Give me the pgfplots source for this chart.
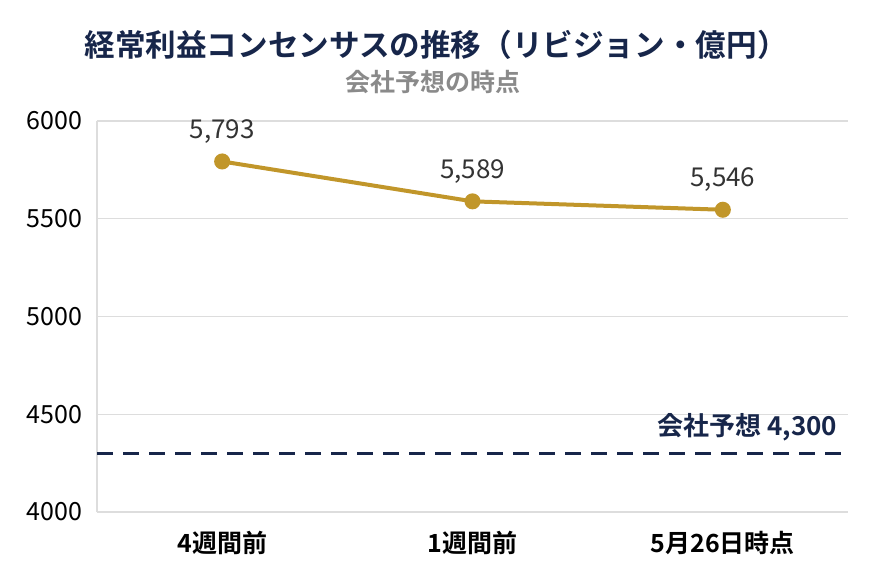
\documentclass[border=0pt]{standalone}
\usepackage{pgfplots}
\pgfplotsset{compat=1.18}
\usepackage{fontspec}
\setmainfont{Noto Sans CJK JP}
\newfontfamily\jpbold{Noto Sans CJK JP Bold}
\definecolor{navy}{HTML}{17264A}
\definecolor{gold}{HTML}{C1962A}
\definecolor{subgray}{HTML}{8A8A8A}
\definecolor{lbl}{HTML}{333333}
\definecolor{gridc}{HTML}{DDDDDD}
\begin{document}
\begin{tikzpicture}
\useasboundingbox (-48.5pt,-35.5pt) rectangle (386.5pt,256pt);
\begin{axis}[
  at={(0pt,0pt)}, anchor=south west,
  scale only axis,
  width=375.5pt, height=195.5pt,
  xmin=-0.5, xmax=2.5,
  ymin=4000, ymax=6000,
  ytick={4000,4500,5000,5500,6000},
  xtick={0,1,2},
  xticklabels={4週間前,1週間前,5月26日時点},
  xticklabel style={font=\jpbold\fontsize{12.5}{15}\selectfont, text=black, yshift=-6pt},
  yticklabel style={font=\fontsize{12.5}{15}\selectfont, text=black, xshift=-4pt},
  /pgf/number format/assume math mode=true,
  /pgf/number format/1000 sep={},
  major tick length=0pt,
  ymajorgrids, grid style={gridc, line width=0.6pt},
  axis x line*=bottom,
  axis y line*=left,
  x axis line style={draw=none},
  y axis line style={gridc, line width=0.6pt},
  clip=false,
]
\addplot[navy, line width=1.5pt, dash pattern=on 8pt off 5pt, forget plot] coordinates {(-0.5,4300) (2.5,4300)};
\addplot[gold, line width=2pt, mark=*, mark size=3pt, mark options={fill=gold, draw=gold},
  point meta=y,
  nodes near coords={\pgfmathprintnumber[fixed, precision=0, 1000 sep={,}, assume math mode=true]{\pgfplotspointmeta}},
  every node near coord/.append style={font=\fontsize{13}{15}\selectfont, text=lbl, anchor=center, yshift=15pt}] coordinates {
  (0,5793)
  (1,5589)
  (2,5546)
};
\node[anchor=east, text=navy, font=\jpbold\fontsize{13}{15}\selectfont] at (axis cs:2.485,4435) {会社予想 4,300};
\end{axis}
\node[text=navy, font=\jpbold\fontsize{15.3}{18}\selectfont] at (169.5pt,233.5pt) {経常利益コンセンサスの推移（リビジョン・億円）};
\node[text=subgray, font=\jpbold\fontsize{12.5}{15}\selectfont] at (168pt,215pt) {会社予想の時点};
\end{tikzpicture}
\end{document}
